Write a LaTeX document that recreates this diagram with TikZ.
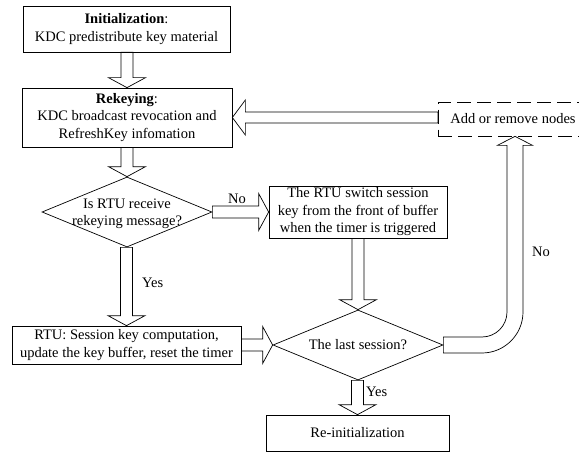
\documentclass[tikz,border=0pt]{standalone}
\usepackage{fontspec}
\setmainfont{Liberation Serif}
\usetikzlibrary{shapes.geometric,calc}
\newcommand\blkdown[2]{%
  \path (#1.south -| #2.north) coordinate (bs);
  \draw[blk] ($(bs)+(-6,0)$) -- ($(#2.north)+(-6,-10)$) -- ($(#2.north)+(-18.5,-10)$) -- (#2.north)
    -- ($(#2.north)+(18.5,-10)$) -- ($(#2.north)+(6,-10)$) -- ($(bs)+(6,0)$) -- cycle;}
\newcommand\blkright[2]{%
  \path (#1.east |- #2.west) coordinate (bs);
  \draw[blk] ($(bs)+(0,-6)$) -- ($(#2.west)+(-10,-6)$) -- ($(#2.west)+(-10,-18.5)$) -- (#2.west)
    -- ($(#2.west)+(-10,18.5)$) -- ($(#2.west)+(-10,6)$) -- ($(bs)+(0,6)$) -- cycle;}
\begin{document}
\begin{tikzpicture}[x=1pt,y=-1pt,
  font=\fontsize{14.5}{17.5}\selectfont,
  box/.style={draw, line width=0.7pt, align=center, inner sep=0pt},
  dia/.style={draw, diamond, line width=0.7pt, inner sep=0pt},
  blk/.style={draw, line width=0.7pt, line join=miter},
  lbl/.style={inner sep=0pt, align=center}]
\useasboundingbox (0,0) rectangle (579,452);

\node[box, minimum width=207pt, minimum height=46pt] (init) at (126.5,29)
  {\textbf{Initialization}:\\KDC predistribute key material};
\node[box, minimum width=210pt, minimum height=59pt] (rekey) at (127,117.5)
  {\textbf{Rekeying}:\\KDC broadcast revocation and\\RefreshKey infomation};
\node[dia, minimum width=170pt, minimum height=70pt] (d1) at (127,212) {};
\node[lbl] (d1t) at (127,214) {Is RTU receive\\rekeying message?};
\node[box, minimum width=178pt, minimum height=52pt] (box2) at (358,212)
  {The RTU switch session\\key from the front of buffer\\when the timer is triggered};
\node[box, minimum width=229pt, minimum height=38pt] (box3) at (126.5,345)
  {RTU: Session key computation,\\update the key buffer, reset the timer};
\node[dia, minimum width=170pt, minimum height=70pt] (d2) at (358,345) {};
\node[lbl] (d2t) at (358,345) {The last session?};
\node[box, minimum width=183pt, minimum height=36pt] (reinit) at (357.5,433) {Re-initialization};
\node[draw, line width=0.7pt, dash pattern=on 14pt off 6pt, anchor=west, inner xsep=12pt,
  inner ysep=0pt, minimum height=34pt, align=left] (add) at (438,119) {Add or remove nodes};

\blkdown{init}{rekey}
\blkdown{rekey}{d1}
\blkdown{d1}{box3}
\blkdown{box2}{d2}
\blkdown{d2}{reinit}
\blkright{d1}{box2}
\blkright{box3}{d2}

% add -> rekey
\path (add.west |- rekey.east) coordinate (ls);
\draw[blk] ($(ls)+(0,-5.5)$) -- ($(rekey.east)+(13,-5.5)$) -- ($(rekey.east)+(13,-17.5)$) -- (rekey.east)
  -- ($(rekey.east)+(13,17.5)$) -- ($(rekey.east)+(13,5.5)$) -- ($(ls)+(0,5.5)$) -- cycle;

% last session -> add (No)
\coordinate (nt) at ($(add.south west)+(77,0)$);
\path (nt |- d2.east) coordinate (K);
\draw[blk] ($(d2.east)+(0,-8)$) -- ($(K)+(-33,-8)$)
  .. controls ($(K)+(-19.2,-8)$) and ($(K)+(-8,-19.2)$) .. ($(K)+(-8,-33)$)
  -- ($(nt)+(-8,9)$) -- ($(nt)+(-17.5,9)$) -- (nt) -- ($(nt)+(17.5,9)$) -- ($(nt)+(8,9)$)
  -- ($(K)+(8,-33)$)
  .. controls ($(K)+(8,-10.4)$) and ($(K)+(-10.4,8)$) .. ($(K)+(-33,8)$)
  -- ($(d2.east)+(0,8)$) -- cycle;

\node[lbl] (no1) at (237,199) {No};
\node[lbl, anchor=west] (yes1) at (142,283) {Yes};
\node[lbl] (no2) at (541,252) {No};
\node[lbl, anchor=west] (yes2) at (366,392) {Yes};
\end{tikzpicture}
\end{document}
